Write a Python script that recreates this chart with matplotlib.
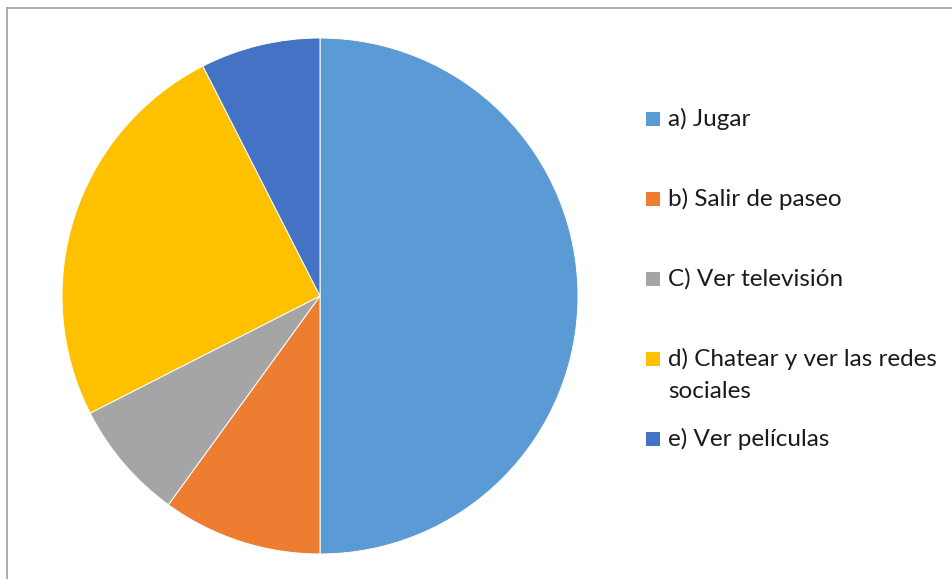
import matplotlib.pyplot as plt
from matplotlib.patches import Rectangle
from matplotlib.lines import Line2D

labels = ["a) Jugar", "b) Salir de paseo", "C) Ver televisión",
          "d) Chatear y ver las redes\nsociales", "e) Ver películas"]
values = [20, 4, 3, 10, 3]
colors = ["#5B9BD5", "#ED7D31", "#A5A5A5", "#FFC000", "#4472C4"]

W, H = 953, 579
fig = plt.figure(figsize=(W / 100, H / 100), dpi=100)
plt.rcParams['font.family'] = ['Lato', 'DejaVu Sans']

# pie centred at (320, 296) px, radius 258 px
cx, cy, r = 320, 296, 258
ax = fig.add_axes([(cx - r) / W, 1 - (cy + r) / H, 2 * r / W, 2 * r / H])
ax.pie(values, colors=colors, startangle=90, counterclock=False,
       wedgeprops=dict(edgecolor="white", linewidth=0.7))
ax.set_xlim(-1, 1)
ax.set_ylim(-1, 1)
ax.set_aspect("equal")
ax.axis("off")

# chart border (only top and left visible)
fig.add_artist(Line2D([7.5 / W, 1], [1 - 7.5 / H, 1 - 7.5 / H],
                      transform=fig.transFigure, color="#A6A6A6", lw=1.3))
fig.add_artist(Line2D([7.5 / W, 7.5 / W], [0, 1 - 7.5 / H],
                      transform=fig.transFigure, color="#A6A6A6", lw=1.3))

# legend
ys = [119, 199, 279, 359, 439]
for lab, col, y in zip(labels, colors, ys):
    fig.add_artist(Rectangle((646 / W, 1 - (y + 7) / H), 14 / W, 14 / H,
                             transform=fig.transFigure, facecolor=col,
                             edgecolor="none"))
    for i, line in enumerate(lab.split("\n")):
        fig.text(668 / W, 1 - (y + 32 * i) / H, line, fontsize=17.5,
                 color="#1a1a1a", va="center")

fig.savefig("out.png", dpi=100)
